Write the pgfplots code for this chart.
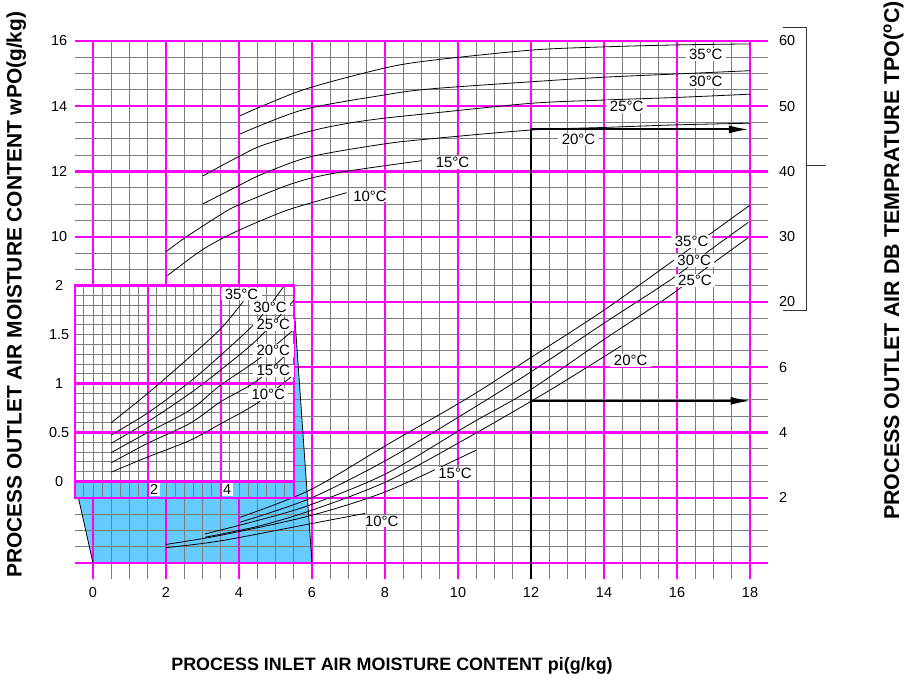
\documentclass[border=0pt]{standalone}
\usepackage{fontspec}
\setmainfont{Liberation Sans}
\usepackage{pgfplots}
\pgfplotsset{compat=1.18}
\usetikzlibrary{arrows.meta}

\definecolor{mag}{RGB}{255,0,255}
\definecolor{skyfill}{RGB}{102,204,255}
\definecolor{gridgray}{RGB}{125,125,125}

\newcommand{\tickfont}{\fontsize{14.5}{17}\selectfont}
\newcommand{\labfont}{\fontsize{15}{18}\selectfont}

\pgfplotsset{
  mainaxis/.style={
    at={(74.75bp,103.69bp)}, anchor=south west,
    width=693.5bp, height=538.31bp, scale only axis,
    xmin=-0.5, xmax=18.5, ymin=-0.5, ymax=16, clip=false},
  insetaxis/.style={
    at={(74.75bp,185.25bp)}, anchor=south west,
    width=219bp, height=212.06bp, scale only axis,
    xmin=0, xmax=6, ymin=-0.166667, ymax=2, clip=false},
  curve/.style={black, line width=0.8bp, smooth},
}
\tikzset{
  lab/.style={font=\labfont, fill=white, inner xsep=3.5bp, inner ysep=1bp},
  tk/.style={font=\tickfont, inner sep=0pt},
}

\begin{document}
\begin{tikzpicture}
\useasboundingbox (0,0) rectangle (904bp,683bp);

% blue region, behind the grid
\begin{axis}[mainaxis, hide axis]
\addplot[draw=none, fill=skyfill] coordinates {(-0.5,2.5) (0,0) (6,0) (5.5,8) (5.5,2.5)} -- cycle;
\end{axis}

% main chart
\begin{axis}[mainaxis,
  xtick={0,2,...,18}, ytick={0,2,...,16},
  minor xtick={0,0.5,...,18}, minor ytick={0,0.5,...,16},
  grid=both,
  major grid style={mag, line width=2.4bp},
  minor grid style={gridgray, line width=0.9bp},
  axis line style={draw=none}, tick style={draw=none},
  xticklabels={}, yticklabels={},
]
% edges of the blue region
\addplot[black, line width=0.8bp] coordinates {(-0.5,2.5) (0,0)};
\addplot[black, line width=0.8bp] coordinates {(5.5,8) (6,0)};

% upper family
\addplot[curve] coordinates {(4.03,13.71) (5.75,14.50) (7.95,15.16) (9.23,15.40) (12,15.72) (14,15.82) (16,15.88) (18,15.91)};
\addplot[curve] coordinates {(4.03,13.15) (5.75,13.89) (7.95,14.34) (9.23,14.53) (12,14.75) (14,14.89) (16,14.99) (18,15.09)};
\addplot[curve] coordinates {(3.0,11.86) (3.98,12.45) (4.66,12.81) (6.0,13.25) (7.0,13.48) (7.95,13.63) (9.23,13.78) (12,14.09) (14,14.19) (16,14.27) (18,14.37)};
\addplot[curve] coordinates {(3.0,11.0) (3.98,11.56) (4.66,11.93) (5.95,12.45) (7.95,12.84) (9.23,13.0) (12,13.27) (14,13.35) (16,13.43) (18,13.48)};
\addplot[curve] coordinates {(2.0,9.54) (2.56,10.0) (3.53,10.70) (3.98,10.97) (5.21,11.53) (5.95,11.79) (6.68,11.96) (7.95,12.17) (9.0,12.33)};
\addplot[curve] coordinates {(2.04,8.81) (3.02,9.62) (3.98,10.19) (5.21,10.77) (5.95,11.03) (6.95,11.35)};

% lower family
\addplot[curve] coordinates {(4.03,1.40) (5.95,2.24) (8.05,3.62) (10.33,5.10) (12,6.30) (14,7.75) (15.9,9.27) (18,10.97)};
\addplot[curve] coordinates {(4.03,1.25) (5.95,1.98) (8.05,3.16) (10.33,4.69) (12,5.86) (14,7.35) (15.85,8.70) (16.88,9.57) (17.95,10.44)};
\addplot[curve] coordinates {(3.07,0.89) (4.5,1.3) (5.95,1.78) (8.05,2.75) (10.33,4.26) (11.97,5.30) (14,6.85) (15.76,8.16) (16.67,8.93) (17.95,9.97)};
\addplot[curve] coordinates {(3.07,0.79) (4.5,1.12) (5.95,1.6) (8.05,2.5) (10.33,3.88) (12.52,5.30) (14.48,6.66)};
\addplot[curve] coordinates {(2.0,0.57) (3.5,0.85) (5.95,1.45) (8.05,2.2) (10.5,3.46)};
\addplot[curve] coordinates {(2.0,0.47) (3.5,0.68) (5.95,1.2) (7.45,1.52)};

% reading example
\addplot[black, line width=2bp] coordinates {(12,-0.5) (12,13.29)};
\addplot[black, line width=2bp, -{Latex[length=20bp,width=8bp]}] coordinates {(12,13.29) (17.97,13.29)};
\addplot[black, line width=2bp, -{Latex[length=20bp,width=8bp]}] coordinates {(12,4.97) (18.02,4.97)};

% curve labels
\node[lab] at (axis cs:16.79,15.59) {35°C};
\node[lab] at (axis cs:16.79,14.75) {30°C};
\node[lab] at (axis cs:14.62,13.99) {25°C};
\node[lab] at (axis cs:13.30,12.99) {20°C};
\node[lab] at (axis cs:9.85,12.27) {15°C};
\node[lab] at (axis cs:7.59,11.25) {10°C};
\node[lab] at (axis cs:16.40,9.85) {35°C};
\node[lab] at (axis cs:16.47,9.27) {30°C};
\node[lab] at (axis cs:16.49,8.65) {25°C};
\node[lab] at (axis cs:14.73,6.20) {20°C};
\node[lab] at (axis cs:9.92,2.75) {15°C};
\node[lab] at (axis cs:7.91,1.29) {10°C};

% tick labels
\pgfplotsinvokeforeach{0,2,...,18}{\node[tk, anchor=north] at (axis cs:#1,-0.5) [yshift=-7.7bp] {#1};}
\pgfplotsinvokeforeach{10,12,14,16}{\node[tk] at (axis cs:-0.93,#1) {#1};}
\node[tk, anchor=west] at (axis cs:18.79,16) {60};
\node[tk, anchor=west] at (axis cs:18.79,14) {50};
\node[tk, anchor=west] at (axis cs:18.79,12) {40};
\node[tk, anchor=west] at (axis cs:18.79,10) {30};
\node[tk, anchor=west] at (axis cs:18.79,8) {20};
\node[tk, anchor=west] at (axis cs:18.79,6) {6};
\node[tk, anchor=west] at (axis cs:18.79,4) {4};
\node[tk, anchor=west] at (axis cs:18.79,2) {2};

% bracket of the temperature scale
\draw[black!80, line width=0.9bp] (axis cs:18.9,16.43) -- (axis cs:19.56,16.43) -- (axis cs:19.56,7.755) -- (axis cs:18.9,7.755);
\draw[black!80, line width=0.9bp] (axis cs:19.56,12.2) -- (axis cs:20.08,12.2);
\end{axis}

% inset backgrounds
\begin{axis}[insetaxis, hide axis]
\addplot[draw=none, fill=white] coordinates {(0,2) (6,2)} \closedcycle;
\addplot[draw=none, fill=skyfill] coordinates {(0,-0.166667) (6,-0.166667)} \closedcycle;
\end{axis}

% inset chart
\begin{axis}[insetaxis,
  xtick={0,2,4,6}, ytick={0,0.5,1,2},
  minor xtick={0,0.25,...,6}, minor ytick={0,0.1,...,2},
  grid=both,
  major grid style={mag, line width=2.4bp},
  minor grid style={gridgray, line width=0.9bp},
  axis line style={mag, line width=2.4bp}, tick style={draw=none},
  xticklabels={}, yticklabels={},
]
\addplot[curve] coordinates {(1,0.60) (2,0.90) (3.16,1.275) (4,1.56) (4.62,1.84)};
\addplot[curve] coordinates {(1,0.475) (2,0.70) (3.16,1.02) (4,1.29) (5,1.64) (5.72,1.99)};
\addplot[curve] coordinates {(1,0.39) (2,0.61) (3.16,0.90) (4,1.14) (5,1.45) (6,1.85)};
\addplot[curve] coordinates {(1,0.295) (2,0.50) (3.16,0.73) (4,0.985) (5,1.24) (6,1.55)};
\addplot[curve] coordinates {(1,0.19) (2,0.39) (3.16,0.594) (4,0.815) (5,1.03) (6,1.37)};
\addplot[curve] coordinates {(1,0.095) (2,0.25) (3.16,0.42) (4,0.59) (5,0.8) (6,1.09)};

\node[lab] at (axis cs:4.57,1.915) {35°C};
\node[lab] at (axis cs:5.35,1.78) {30°C};
\node[lab] at (axis cs:5.44,1.60) {25°C};
\node[lab] at (axis cs:5.44,1.34) {20°C};
\node[lab] at (axis cs:5.44,1.13) {15°C};
\node[lab] at (axis cs:5.30,0.89) {10°C};

\node[tk, anchor=west, fill=white, inner sep=1.5bp] at (axis cs:2.02,-0.0833) {2};
\node[tk, anchor=west, fill=white, inner sep=1.5bp] at (axis cs:4.02,-0.0833) {4};
\node[tk] at (axis cs:-0.43,2) {2};
\node[tk] at (axis cs:-0.43,1.5) {1.5};
\node[tk] at (axis cs:-0.43,1) {1};
\node[tk] at (axis cs:-0.43,0.5) {0.5};
\node[tk] at (axis cs:-0.43,0) {0};
\end{axis}

% axis titles
\node[font=\fontsize{18}{21}\selectfont\bfseries, anchor=base, inner sep=0pt] at (392bp,13bp) {PROCESS INLET AIR MOISTURE CONTENT pi(g/kg)};
\node[font=\fontsize{21}{25}\selectfont\bfseries, rotate=90, anchor=base west, inner sep=0pt] at (21.7bp,105bp) {PROCESS OUTLET AIR MOISTURE CONTENT wPO(g/kg)};
\node[font=\fontsize{21.5}{25}\selectfont\bfseries, rotate=90, anchor=base west, inner sep=0pt] at (899bp,163bp) {PROCESS OUTLET AIR DB TEMPRATURE TPO(\textsuperscript{o}C)};
\end{tikzpicture}
\end{document}
